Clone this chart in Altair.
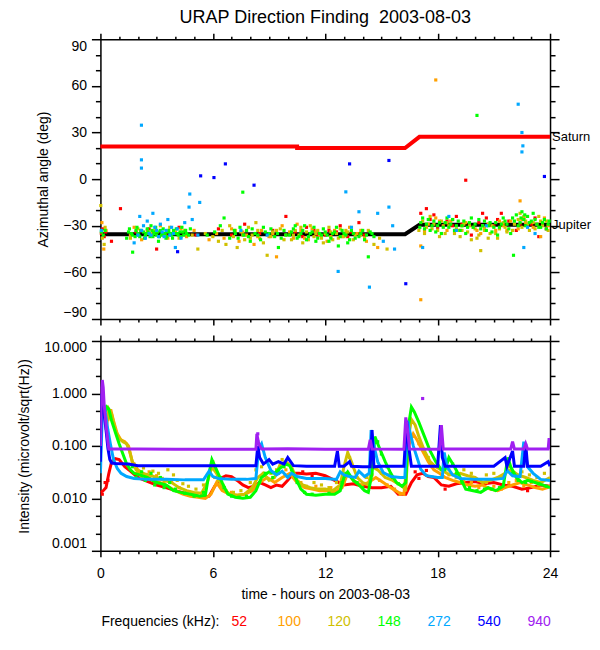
import altair as alt
import pandas as pd

FONT = "Liberation Sans"

FREQS = ["52", "100", "120", "148", "272", "540", "940"]
COLORS = ["#ff0000", "#ffa000", "#d0c000", "#00ff00", "#00a8ff", "#0000ff", "#a020f0"]

# ---------------- top panel: reference directions ----------------
SATURN = [(0, 21), (10.5, 21), (10.5, 20), (16.26, 20), (17.03, 27.2), (24, 27.2)]
JUPITER = [(0, -35.4), (16.26, -35.4), (17.03, -29.4), (24, -29.4)]

# azimuth measurements (hours, degrees) per frequency
AZ_52 = [(0.05, -35), (0.12, -32), (0.2, -37), (0.28, -34), (0.59, -40), (1.07, -19),
         (1.9, -34), (2.6, -32), (3.0, -45), (3.5, -36), (4.2, -31), (5.1, -36),
         (6.3, -32), (7.0, -36), (7.7, -29), (8.5, -35), (9.2, -33), (9.9, -24),
         (10.4, -34), (10.8, -37), (11.0, -31), (11.4, -33), (11.6, -36), (12.0, -36),
         (12.2, -33), (12.6, -34), (12.8, -30), (13.2, -37), (13.4, -34), (13.8, -28),
         (14.1, -36), (17.1, -22), (17.4, -19), (17.6, -26), (17.8, -23), (18.0, -31),
         (18.5, -27), (18.8, -30), (19.0, -24), (19.3, -29), (19.5, -0.7), (19.8, -36),
         (20.2, -28), (20.4, -22), (20.6, -25), (21.0, -30), (21.2, -26), (21.4, -22),
         (21.8, -27), (22.2, -33), (22.4, -29), (22.6, -25), (23.0, -29), (23.2, -25),
         (23.4, -37), (23.8, -32)]
AZ_100 = [(0.08, -28), (0.18, -45), (0.3, -33), (1.6, -36), (1.8, -31), (2.2, -39),
          (2.5, -33), (2.7, -35), (3.2, -30), (3.4, -36), (3.6, -38), (4.0, -34),
          (4.3, -32), (4.6, -37), (5.0, -33), (5.8, -39), (6.2, -35), (6.6, -38),
          (7.0, -32), (7.4, -40), (7.6, -34), (7.8, -36), (8.2, -42), (8.4, -37),
          (8.6, -33), (9.0, -37), (9.2, -35), (9.4, -50), (9.7, -30), (10.1, -34),
          (10.3, -38), (10.5, -29), (10.7, -33), (10.9, -38), (11.3, -32), (11.5, -34),
          (11.7, -36), (12.1, -40), (12.3, -37), (12.5, -33), (12.9, -37), (13.1, -35),
          (13.3, -31), (13.7, -35), (13.9, -33), (14.2, -40), (14.8, -44), (17.1, -43),
          (17.1, -77.6), (17.9, 63.8), (17.3, -33), (17.5, -29), (17.9, -25), (18.1, -27),
          (18.3, -30), (18.5, -33), (18.7, -27), (19.1, -33), (19.3, -30), (19.5, -28),
          (19.9, -31), (20.1, -33), (20.3, -35), (20.5, -31), (20.7, -29), (21.1, -33),
          (21.3, -27), (21.5, -30), (21.7, -33), (21.9, -27), (22.3, -32), (22.4, -14),
          (22.5, -26), (22.7, -28), (23.1, -31), (23.3, -29), (23.5, -37), (23.7, -25),
          (23.9, -30)]
AZ_120 = [(0.02, -17), (0.1, -38), (0.2, -42), (0.25, -31), (1.6, -38), (2.0, -32),
          (2.4, -37), (2.9, -33), (3.4, -36), (3.7, -31), (4.2, -38), (4.5, -33),
          (4.9, -36), (5.2, -45), (5.6, -35), (6.0, -37), (6.3, -40), (6.5, -33),
          (6.7, -42), (6.9, -30), (7.1, -37), (7.2, -33), (7.3, -44), (7.5, -34),
          (7.6, -36), (7.7, -39), (7.9, -31), (8.0, -38), (8.1, -36), (8.3, -28),
          (8.4, -33), (8.5, -38), (8.7, -41), (8.9, -49), (9.1, -37), (9.2, -34),
          (9.4, -33), (9.6, -32), (9.8, -39), (9.9, -36), (10.2, -39), (10.3, -36),
          (10.4, -33), (10.6, -36), (10.7, -31), (10.8, -41), (11.0, -34), (11.1, -39),
          (11.2, -30), (11.4, -37), (11.5, -35), (11.6, -33), (11.8, -38), (11.9, -41),
          (12.0, -35), (12.2, -31), (12.3, -34), (12.4, -39), (12.6, -35), (12.7, -38),
          (12.8, -32), (13.0, -37), (13.1, -33), (13.2, -34), (13.5, -39), (13.6, -36),
          (13.9, -36), (14.1, -38), (14.3, -33), (14.6, -42), (14.9, -38), (15.3, -45),
          (17.0, -33), (17.2, -27), (17.3, -35), (17.4, -31), (17.6, -24), (17.7, -32),
          (17.8, -29), (18.0, -33), (18.1, -37), (18.2, -27), (18.4, -35), (18.5, -28),
          (18.6, -30), (18.8, -26), (18.9, -35), (19.0, -32), (19.2, -37), (19.3, -33),
          (19.4, -29), (19.6, -34), (19.7, -30), (19.8, -39), (20.0, -32), (20.1, -38),
          (20.2, -36), (20.3, -46), (20.4, -30), (20.5, -33), (20.7, -38), (20.8, -35),
          (20.9, -30), (21.1, -35), (21.2, -38), (21.3, -32), (21.5, -28), (21.6, -31),
          (21.7, -34), (22.0, -33), (22.1, -29), (22.3, -26), (22.4, -22), (22.5, -31),
          (22.6, -24), (22.7, -27), (22.8, -29), (22.9, -33), (23.1, -28), (23.2, -32),
          (23.4, -24), (23.5, -27), (23.6, -30), (23.8, -27), (23.9, -33)]
AZ_148 = [(0.05, -34), (0.15, -36), (0.25, -33), (1.4, -38), (1.5, -34), (1.55, -32),
          (1.65, -35), (1.7, -36), (1.72, -47), (1.85, -37), (1.9, -33), (1.95, -31),
          (2.0, -35), (2.05, -36), (2.1, -37), (2.15, -33), (2.3, -34), (2.35, -38),
          (2.4, -36), (2.45, -35), (2.5, -32), (2.55, -34), (2.6, -35), (2.65, -37),
          (2.7, -30), (2.75, -33), (2.8, -37), (2.85, -35), (2.9, -34), (2.95, -31),
          (3.0, -36), (3.05, -34), (3.1, -40), (3.15, -37), (3.2, -33), (3.25, -36),
          (3.3, -35), (3.35, -32), (3.45, -35), (3.5, -38), (3.55, -37), (3.6, -34),
          (3.65, -33), (3.75, -35), (3.8, -36), (3.85, -38), (3.9, -33), (3.95, -35),
          (4.05, -32), (4.1, -35), (4.15, -36), (4.25, -34), (4.3, -37), (4.35, -31),
          (4.4, -34), (4.45, -36), (4.55, -33), (4.6, -35), (4.7, -36), (4.8, -32),
          (5.7, -36), (6.1, -34), (6.4, -30), (6.6, -25), (6.9, -38), (7.15, -33),
          (7.2, -35), (7.35, -38), (7.45, -31), (7.6, -8.4), (7.65, -36), (7.8, -33),
          (7.9, -37), (8.0, -40), (8.1, -32), (8.25, -35), (8.4, -36), (8.55, -39),
          (8.7, -31), (8.8, -34), (9.0, -35), (9.1, -32), (9.3, -37), (9.45, -35),
          (9.5, -44), (9.65, -38), (9.8, -33), (9.9, -36), (10.1, -36), (10.2, -34),
          (10.3, -32), (10.4, -30), (10.5, -38), (10.6, -37), (10.7, -35), (10.8, -33),
          (10.9, -30), (11.0, -39), (11.1, -37), (11.2, -35), (11.3, -34), (11.4, -31),
          (11.5, -40), (11.6, -38), (11.7, -35), (11.8, -36), (11.9, -32), (12.0, -34),
          (12.1, -36), (12.2, -40), (12.3, -38), (12.4, -35), (12.5, -34), (12.6, -31),
          (12.7, -43), (12.8, -37), (12.9, -33), (13.0, -35), (13.1, -36), (13.2, -41),
          (13.3, -39), (13.4, -33), (13.5, -35), (13.6, -38), (13.8, -37), (13.9, -35),
          (14.0, -33), (14.1, -39), (14.2, -36), (14.3, -50), (14.4, -34), (14.5, -35),
          (14.6, -37), (17.05, -31), (17.1, -28), (17.2, -25), (17.3, -32), (17.4, -29),
          (17.5, -26), (17.6, -33), (17.7, -30), (17.8, -27), (17.9, -34), (18.0, -30),
          (18.1, -28), (18.2, -35), (18.3, -31), (18.4, -28), (18.5, -25), (18.6, -31),
          (18.7, -29), (18.8, -26), (18.9, -33), (19.0, -30), (19.1, -27), (19.2, -33),
          (19.3, -30), (19.4, -27), (19.5, -35), (19.6, -31), (19.7, -28), (19.8, -25),
          (19.9, -31), (20.0, -29), (20.1, 41), (20.2, -26), (20.3, -32), (20.4, -30),
          (20.5, -27), (20.6, -33), (20.7, -30), (20.8, -28), (20.9, -34), (21.0, -31),
          (21.1, -28), (21.2, -36), (21.3, -31), (21.4, -29), (21.5, -25), (21.6, -27),
          (21.7, -29), (21.8, -32), (21.9, -35), (22.0, -25), (22.05, -49), (22.1, -27),
          (22.2, -23), (22.3, -30), (22.4, -28), (22.45, -25), (22.5, -21), (22.6, -26),
          (22.65, -23), (22.7, -30), (22.8, -24), (22.9, -28), (23.0, -27), (23.1, -22),
          (23.2, -26), (23.3, -29), (23.4, -31), (23.5, -31), (23.6, -28), (23.7, -26),
          (23.8, -32), (23.9, -29), (23.95, -27)]
AZ_272 = [(0.05, -33), (2.19, 34.7), (2.19, 12.4), (2.19, 7.1), (1.8, -41), (2.0, -36),
          (2.1, -24), (2.2, -33), (2.3, -30), (2.4, -38), (2.5, -27), (2.6, -35),
          (2.7, -36), (2.8, -22), (2.9, -31), (3.0, -33), (3.1, -37), (3.2, -29),
          (3.3, -34), (3.4, -37), (3.5, -33), (3.6, -26), (3.7, -36), (3.8, -31),
          (3.9, -35), (4.0, -44), (4.1, -32), (4.3, -38), (4.5, -28), (4.73, -18),
          (4.77, -9.6), (4.9, -26), (5.3, -15), (5.2, -36), (7.5, -33), (8.9, -36),
          (12.69, -59.4), (13.1, -8.2), (13.4, -31), (13.8, -21), (14.36, -69.5),
          (14.8, -22), (15.1, -40), (15.4, -18), (15.6, -30), (15.7, -45), (17.2, -44),
          (18.6, -24), (19.0, -33), (20.6, -30), (22.3, 48.2), (22.5, 30), (22.55, 21.4),
          (22.5, 17.5), (22.6, -44), (22.8, -31), (23.2, -35)]
AZ_540 = [(4.12, -46.7), (5.35, 2.1), (6.06, 1.0), (6.67, 9.8), (8.2, -3.9), (13.3, 9.8),
          (15.4, 12.0), (16.3, -67.3), (23.7, 1.7)]
AZ_940 = []

# ---------------- bottom panel: intensities (hours, microvolt/sqrt(Hz)) ----------------
INT_52 = [(0.0, 0.013), (0.15, 0.014), (0.3, 0.016), (0.45, 0.03), (0.6, 0.05), (0.8, 0.057),
          (1.0, 0.055), (1.3, 0.04), (1.6, 0.033), (2.0, 0.025), (2.5, 0.021), (3.0, 0.018),
          (3.5, 0.016), (4.0, 0.014), (4.5, 0.0125), (5.0, 0.0115), (5.5, 0.0105), (5.8, 0.011),
          (6.1, 0.017), (6.4, 0.024), (6.7, 0.027), (7.0, 0.026), (7.3, 0.022), (7.6, 0.018),
          (7.9, 0.016), (8.2, 0.017), (8.5, 0.02), (8.8, 0.018), (9.1, 0.016), (9.4, 0.018),
          (9.7, 0.017), (10.0, 0.022), (10.3, 0.03), (10.6, 0.03), (11.0, 0.029), (11.5, 0.03),
          (12.0, 0.027), (12.5, 0.022), (13.0, 0.018), (13.5, 0.019), (14.0, 0.017), (14.5, 0.016),
          (15.0, 0.016), (15.5, 0.017), (15.9, 0.012), (16.3, 0.012), (16.6, 0.02), (16.9, 0.028),
          (17.2, 0.03), (17.5, 0.026), (17.8, 0.025), (18.2, 0.018), (18.6, 0.017), (19.0, 0.019),
          (19.5, 0.02), (20.0, 0.021), (20.5, 0.019), (21.0, 0.02), (21.5, 0.018), (22.0, 0.017),
          (22.5, 0.015), (23.0, 0.016), (23.5, 0.018), (24.0, 0.017)]
INT_100 = [(0.4, 0.3), (0.55, 0.5), (0.7, 0.3), (0.9, 0.17), (1.1, 0.13), (1.3, 0.12), (1.5, 0.1),
           (1.7, 0.05), (2.0, 0.035), (2.4, 0.028), (2.8, 0.022), (3.2, 0.02), (3.6, 0.017),
           (4.0, 0.014), (4.4, 0.012), (4.8, 0.011), (5.2, 0.0105), (5.6, 0.01), (5.9, 0.012),
           (6.2, 0.02), (6.5, 0.014), (6.9, 0.012), (7.3, 0.0115), (7.7, 0.012), (8.1, 0.014),
           (8.5, 0.02), (8.9, 0.025), (9.3, 0.02), (9.7, 0.025), (10.1, 0.03), (10.5, 0.02),
           (10.9, 0.016), (11.3, 0.015), (11.7, 0.014), (12.1, 0.014), (12.5, 0.013), (12.9, 0.016),
           (13.2, 0.03), (13.5, 0.022), (13.9, 0.018), (14.3, 0.02), (14.7, 0.025), (15.1, 0.02),
           (15.5, 0.016), (15.9, 0.013), (16.2, 0.012), (16.45, 0.1), (16.7, 0.17), (16.9, 0.13),
           (17.2, 0.08), (17.5, 0.05), (17.8, 0.035), (18.1, 0.03), (18.4, 0.025), (18.8, 0.022),
           (19.2, 0.02), (19.6, 0.018), (20.0, 0.017), (20.4, 0.018), (20.8, 0.015), (21.2, 0.014),
           (21.6, 0.016), (22.0, 0.018), (22.4, 0.02), (22.8, 0.018), (23.2, 0.016), (23.6, 0.015),
           (24.0, 0.017)]
INT_120 = [(0.3, 0.2), (0.45, 0.5), (0.6, 0.4), (0.8, 0.2), (1.0, 0.14), (1.2, 0.12), (1.4, 0.11),
           (1.55, 0.08), (1.7, 0.05), (1.9, 0.035), (2.2, 0.03), (2.6, 0.028), (3.0, 0.025),
           (3.4, 0.022), (3.8, 0.02), (4.2, 0.016), (4.6, 0.014), (5.0, 0.013), (5.4, 0.0125),
           (5.7, 0.02), (5.95, 0.04), (6.2, 0.03), (6.5, 0.016), (6.9, 0.012), (7.3, 0.0115),
           (7.7, 0.012), (8.1, 0.016), (8.4, 0.025), (8.7, 0.03), (9.0, 0.022), (9.3, 0.025),
           (9.6, 0.045), (9.9, 0.05), (10.2, 0.04), (10.5, 0.022), (10.8, 0.018), (11.2, 0.016),
           (11.6, 0.015), (12.0, 0.015), (12.4, 0.014), (12.8, 0.018), (13.0, 0.04), (13.2, 0.075),
           (13.4, 0.05), (13.7, 0.025), (14.0, 0.02), (14.3, 0.018), (14.5, 0.04), (14.8, 0.035),
           (15.2, 0.025), (15.6, 0.022), (16.0, 0.018), (16.3, 0.015), (16.45, 0.15), (16.6, 0.32),
           (16.8, 0.25), (17.0, 0.15), (17.3, 0.08), (17.6, 0.05), (17.9, 0.04), (18.2, 0.035),
           (18.5, 0.03), (18.8, 0.028), (19.2, 0.03), (19.6, 0.027), (20.0, 0.025), (20.4, 0.02),
           (20.8, 0.022), (21.2, 0.025), (21.6, 0.03), (21.9, 0.035), (22.3, 0.028), (22.7, 0.025),
           (23.1, 0.022), (23.5, 0.02), (24.0, 0.025)]
INT_148 = [(0.2, 0.4), (0.35, 0.55), (0.45, 0.5), (0.6, 0.3), (0.8, 0.18), (1.0, 0.11), (1.2, 0.07),
           (1.4, 0.045), (1.6, 0.035), (1.8, 0.03), (2.1, 0.028), (2.5, 0.025), (3.0, 0.02),
           (3.5, 0.018), (3.9, 0.014), (4.3, 0.013), (4.8, 0.012), (5.3, 0.011), (5.6, 0.0115),
           (5.8, 0.03), (5.95, 0.055), (6.2, 0.035), (6.5, 0.02), (6.8, 0.012), (7.2, 0.0105),
           (7.6, 0.01), (8.0, 0.0105), (8.3, 0.014), (8.6, 0.025), (9.0, 0.032), (9.3, 0.03),
           (9.6, 0.038), (9.9, 0.045), (10.1, 0.042), (10.4, 0.025), (10.7, 0.015), (11.0, 0.012),
           (11.5, 0.0115), (12.0, 0.012), (12.5, 0.012), (12.8, 0.014), (13.0, 0.025), (13.2, 0.032),
           (13.5, 0.022), (13.8, 0.018), (14.1, 0.014), (14.3, 0.013), (14.5, 0.03), (14.65, 0.15),
           (14.9, 0.09), (15.2, 0.05), (15.5, 0.03), (15.8, 0.02), (16.1, 0.017), (16.3, 0.02),
           (16.45, 0.25), (16.6, 0.55), (16.75, 0.45), (17.0, 0.28), (17.3, 0.15), (17.6, 0.08),
           (17.9, 0.05), (18.2, 0.035), (18.4, 0.035), (18.6, 0.06), (18.9, 0.04), (19.2, 0.025),
           (19.5, 0.015), (19.9, 0.014), (20.3, 0.013), (20.7, 0.016), (21.1, 0.014), (21.5, 0.017),
           (21.75, 0.06), (21.9, 0.04), (22.2, 0.025), (22.5, 0.02), (22.8, 0.022), (23.2, 0.02),
           (23.6, 0.018), (24.0, 0.016)]
INT_272 = [(0.0, 0.03), (0.1, 0.4), (0.2, 0.6), (0.3, 0.35), (0.4, 0.2), (0.55, 0.1), (0.7, 0.055),
           (0.9, 0.037), (1.1, 0.03), (1.4, 0.026), (1.8, 0.024), (2.5, 0.023), (3.5, 0.023),
           (4.5, 0.0225), (5.5, 0.0225), (5.8, 0.033), (6.0, 0.026), (6.3, 0.024), (7.0, 0.023),
           (7.8, 0.023), (8.3, 0.024), (8.45, 0.09), (8.6, 0.11), (8.8, 0.06), (9.1, 0.034),
           (9.4, 0.028), (9.7, 0.033), (10.0, 0.025), (10.2, 0.03), (10.5, 0.026), (11.0, 0.024),
           (12.0, 0.024), (12.6, 0.023), (12.8, 0.032), (13.0, 0.028), (13.3, 0.026), (13.6, 0.025),
           (13.8, 0.033), (14.1, 0.026), (14.35, 0.03), (14.45, 0.2), (14.6, 0.1), (14.8, 0.05),
           (15.1, 0.031), (15.5, 0.026), (16.0, 0.025), (16.25, 0.025), (16.4, 0.3), (16.5, 0.2),
           (16.7, 0.1), (16.9, 0.06), (17.1, 0.036), (17.4, 0.027), (18.0, 0.025), (18.25, 0.025),
           (18.35, 0.075), (18.5, 0.04), (18.8, 0.028), (19.2, 0.024), (20.0, 0.023), (21.0, 0.023),
           (21.5, 0.024), (21.7, 0.034), (22.0, 0.027), (22.4, 0.026), (22.6, 0.12), (22.8, 0.04),
           (23.1, 0.03), (23.5, 0.023), (24.0, 0.022)]
INT_540 = [(0.0, 0.05), (0.05, 1.0), (0.1, 0.6), (0.2, 0.4), (0.3, 0.2), (0.4, 0.09), (0.5, 0.055),
           (0.6, 0.047), (0.8, 0.046), (1.5, 0.045), (2.0, 0.042), (3.0, 0.042), (5.0, 0.042),
           (7.0, 0.042), (8.3, 0.042), (8.4, 0.1), (8.5, 0.06), (8.7, 0.045), (9.0, 0.055),
           (9.2, 0.045), (9.5, 0.05), (9.8, 0.045), (10.0, 0.06), (10.3, 0.042), (11.0, 0.041),
           (12.5, 0.041), (12.65, 0.08), (12.75, 0.041), (13.0, 0.041), (13.3, 0.05), (13.4, 0.041),
           (14.0, 0.04), (14.4, 0.04), (14.5, 0.2), (14.6, 0.04), (15.0, 0.041), (16.2, 0.041),
           (16.35, 0.3), (16.45, 0.1), (16.6, 0.041), (17.0, 0.041), (18.0, 0.041), (18.15, 0.25),
           (18.25, 0.06), (18.4, 0.041), (19.0, 0.041), (21.0, 0.041), (21.6, 0.06), (21.7, 0.041),
           (22.0, 0.08), (22.1, 0.041), (22.2, 0.041), (22.6, 0.041), (22.7, 0.11), (22.8, 0.041),
           (23.5, 0.041), (23.9, 0.05), (24.0, 0.041)]
INT_940 = [(0.0, 0.1), (0.05, 1.2), (0.1, 1.8), (0.15, 1.3), (0.2, 0.6), (0.3, 0.25), (0.4, 0.12),
           (0.45, 0.087), (1.0, 0.087), (2.0, 0.087), (4.0, 0.086), (6.0, 0.086), (8.3, 0.086),
           (8.35, 0.17), (8.45, 0.11), (8.6, 0.087), (10.0, 0.088), (12.0, 0.086), (14.3, 0.086),
           (14.4, 0.13), (14.5, 0.087), (16.2, 0.086), (16.3, 0.35), (16.4, 0.2), (16.5, 0.087),
           (18.1, 0.086), (18.2, 0.25), (18.3, 0.087), (20.0, 0.087), (21.9, 0.087), (22.0, 0.12),
           (22.1, 0.087), (22.6, 0.087), (22.7, 0.11), (22.8, 0.087), (23.9, 0.087), (23.95, 0.14),
           (24.0, 0.087)]

# scattered individual intensity samples around the traces
SCAT_52 = [(0.1, 0.012), (0.25, 0.02), (0.4, 0.022), (10.8, 0.032), (11.3, 0.027),
           (16.8, 0.032), (17.0, 0.024), (17.4, 0.034), (18.4, 0.015), (22.8, 0.014)]
SCAT_100 = [(1.9, 0.03), (2.2, 0.025), (2.6, 0.032), (3.0, 0.027), (3.4, 0.02), (3.8, 0.022),
            (4.2, 0.016), (4.6, 0.013), (5.0, 0.0115), (5.4, 0.012), (6.1, 0.025), (6.6, 0.016),
            (7.0, 0.013), (8.3, 0.018), (8.7, 0.03), (9.5, 0.03), (9.9, 0.035), (10.3, 0.025),
            (10.7, 0.02), (11.5, 0.017), (12.3, 0.016), (13.0, 0.02), (13.7, 0.025), (14.5, 0.028),
            (14.9, 0.022), (15.3, 0.018), (15.7, 0.015), (16.0, 0.012), (17.0, 0.11), (17.4, 0.065),
            (17.7, 0.04), (18.2, 0.035), (18.6, 0.028), (19.0, 0.025), (19.4, 0.022), (19.8, 0.02),
            (20.2, 0.016), (20.6, 0.02), (21.0, 0.017), (21.4, 0.015), (21.8, 0.02), (22.2, 0.022),
            (22.6, 0.017), (23.0, 0.02), (23.4, 0.018), (23.8, 0.016)]
SCAT_120 = [(1.8, 0.045), (2.0, 0.032), (2.3, 0.038), (2.5, 0.026), (2.8, 0.033), (3.1, 0.03),
            (3.3, 0.024), (3.6, 0.035), (3.9, 0.028), (4.1, 0.022), (4.4, 0.019), (4.7, 0.017),
            (5.1, 0.015), (5.5, 0.018), (6.0, 0.05), (6.3, 0.022), (6.7, 0.014), (7.1, 0.013),
            (7.5, 0.014), (8.0, 0.02), (8.3, 0.035), (8.6, 0.04), (9.1, 0.03), (9.4, 0.035),
            (9.7, 0.055), (10.0, 0.045), (10.3, 0.03), (10.6, 0.02), (11.0, 0.017), (11.4, 0.02),
            (11.8, 0.018), (12.2, 0.016), (12.6, 0.02), (13.3, 0.06), (13.5, 0.04), (14.2, 0.025),
            (15.0, 0.03), (15.4, 0.028), (17.5, 0.06), (18.0, 0.045), (18.6, 0.035), (19.0, 0.025),
            (19.4, 0.035), (19.8, 0.03), (20.2, 0.022), (20.6, 0.028), (21.0, 0.03), (21.4, 0.026),
            (21.8, 0.04), (22.1, 0.03), (22.5, 0.032), (22.9, 0.028), (23.3, 0.025), (23.7, 0.03)]
SCAT_148 = [(1.7, 0.04), (1.9, 0.025), (2.2, 0.032), (2.4, 0.022), (2.7, 0.03), (2.9, 0.018),
            (3.2, 0.025), (3.4, 0.016), (3.7, 0.02), (4.0, 0.015), (4.5, 0.0125), (5.0, 0.011),
            (5.5, 0.013), (6.0, 0.045), (6.4, 0.025), (6.6, 0.016), (7.0, 0.011), (7.4, 0.0105),
            (7.8, 0.011), (8.5, 0.02), (8.8, 0.03), (9.2, 0.025), (9.5, 0.033), (9.8, 0.04),
            (10.2, 0.035), (10.5, 0.02), (10.9, 0.013), (11.3, 0.012), (12.2, 0.0125), (12.9, 0.02),
            (13.1, 0.03), (13.4, 0.025), (13.7, 0.02), (14.0, 0.016), (14.8, 0.12), (15.0, 0.07),
            (15.3, 0.04), (15.6, 0.025), (15.9, 0.019), (18.5, 0.05), (18.8, 0.045), (19.0, 0.03),
            (19.3, 0.02), (19.7, 0.016), (20.1, 0.014), (20.5, 0.015), (20.9, 0.015), (21.3, 0.016),
            (21.7, 0.035), (22.0, 0.03), (22.3, 0.022), (22.7, 0.02), (23.0, 0.021), (23.4, 0.019),
            (23.8, 0.017)]
SCAT_272 = []
SCAT_540 = []
SCAT_940 = [(17.2, 0.8), (8.4, 0.17), (8.4, 0.12)]

AZ = dict(zip(FREQS, [AZ_52, AZ_100, AZ_120, AZ_148, AZ_272, AZ_540, AZ_940]))
INT = dict(zip(FREQS, [INT_52, INT_100, INT_120, INT_148, INT_272, INT_540, INT_940]))
SCAT = dict(zip(FREQS, [SCAT_52, SCAT_100, SCAT_120, SCAT_148, SCAT_272, SCAT_540, SCAT_940]))
COL = dict(zip(FREQS, COLORS))

# ---------------- styles ----------------
W, H1, H2 = 450, 280, 210
HOURS = list(range(0, 25))
ANGLES = list(range(-90, 91, 10))
LOGTICKS = [10 ** (k / 3) for k in range(-9, 4)]

common = dict(labelFont=FONT, labelFontSize=14, labelColor="black", titleFont=FONT,
              titleFontSize=14, titleFontWeight="normal", titleColor="black",
              domainColor="black", tickColor="black", domainWidth=1.5, tickWidth=1.5,
              grid=False, labelOverlap=False)


def x_axis(orient, labels, title=None):
    kw = dict(common)
    kw.update(orient=orient, values=HOURS, labels=labels,
              tickSize={"condition": {"test": "datum.value % 6 === 0", "value": 6}, "value": 3})
    if labels:
        kw.update(labelExpr="datum.value % 6 === 0 ? datum.label : ''", labelFlush=False,
                  labelPadding=10, titlePadding=7)
    return alt.Axis(title=title, **kw)


def y_axis(orient, labels, title=None):
    kw = dict(common)
    kw.update(orient=orient, values=ANGLES, labels=labels,
              tickSize={"condition": {"test": "datum.value % 30 === 0", "value": 9}, "value": 5})
    if labels:
        kw.update(labelExpr="datum.value % 30 === 0 ? datum.label : ''", labelFlush=True,
                  labelPadding=5, titlePadding=12)
    return alt.Axis(title=title, **kw)


DEC = "abs(log(datum.value)/LN10 - round(log(datum.value)/LN10)) < 0.01"


def ylog_axis(orient, labels, title=None):
    kw = dict(common)
    kw.update(orient=orient, values=LOGTICKS, labels=labels,
              tickSize={"condition": {"test": DEC, "value": 9}, "value": 5})
    if labels:
        kw.update(labelExpr=DEC + " ? format(datum.value, '.3f') : ''", labelFlush=True,
                  labelPadding=5, titlePadding=12)
    return alt.Axis(title=title, **kw)


xs = alt.Scale(domain=[0, 24], nice=False, zero=False)
ys1 = alt.Scale(domain=[-90, 90], nice=False, zero=False)
ys2 = alt.Scale(type="log", domain=[0.001, 10], nice=False)
cscale = alt.Scale(domain=FREQS, range=COLORS)

# ---------------- top panel ----------------
sat_df = pd.DataFrame({"t": [p[0] for p in SATURN], "a": [p[1] for p in SATURN],
                       "i": range(len(SATURN))})
jup_df = pd.DataFrame({"t": [p[0] for p in JUPITER], "a": [p[1] for p in JUPITER],
                       "i": range(len(JUPITER))})
az_rows = [{"t": t, "a": a, "f": f} for f in FREQS for (t, a) in AZ[f]]
az_df = pd.DataFrame(az_rows)
lab_df = pd.DataFrame({"t": [SATURN[-1][0], JUPITER[-1][0]],
                       "a": [SATURN[-1][1], JUPITER[-1][1]],
                       "name": ["Saturn", "Jupiter"]})

saturn = alt.Chart(sat_df).mark_line(color="#ff0000", strokeWidth=4).encode(
    x=alt.X("t:Q", scale=xs, axis=x_axis("bottom", False)),
    y=alt.Y("a:Q", scale=ys1, axis=y_axis("left", True, "Azimuthal angle (deg)")),
    order="i:Q")
jupiter = alt.Chart(jup_df).mark_line(color="black", strokeWidth=4).encode(
    x=alt.X("t:Q", scale=xs, axis=x_axis("top", False)),
    y=alt.Y("a:Q", scale=ys1, axis=y_axis("right", False)),
    order="i:Q")
az_pts = alt.Chart(az_df).mark_square(size=10, opacity=1).encode(
    x=alt.X("t:Q", scale=xs, axis=None),
    y=alt.Y("a:Q", scale=ys1, axis=None),
    color=alt.Color("f:N", scale=cscale, legend=None))
names = alt.Chart(lab_df).mark_text(align="left", baseline="middle", dx=2, font=FONT,
                                    fontSize=13, color="black").encode(
    x=alt.X("t:Q", scale=xs, axis=None),
    y=alt.Y("a:Q", scale=ys1, axis=None),
    text="name:N")

top = alt.layer(saturn, jupiter, az_pts, names).resolve_axis(
    x="independent", y="independent").properties(
    width=W, height=H1,
    title=alt.Title("URAP Direction Finding\u00a0 2003-08-03", font=FONT, fontSize=18,
                    fontWeight="normal", color="black", anchor="middle", frame="group",
                    offset=5.3))

# ---------------- bottom panel ----------------
layers = []
for k, f in enumerate(FREQS):
    df = pd.DataFrame({"t": [p[0] for p in INT[f]], "v": [p[1] for p in INT[f]]})
    enc = dict(x=alt.X("t:Q", scale=xs, axis=None), y=alt.Y("v:Q", scale=ys2, axis=None))
    if k == 0:
        enc = dict(x=alt.X("t:Q", scale=xs, axis=x_axis("bottom", True, "time - hours on 2003-08-03")),
                   y=alt.Y("v:Q", scale=ys2, axis=ylog_axis("left", True,
                                                            "Intensity (microvolt/sqrt(Hz))")))
    elif k == 1:
        enc = dict(x=alt.X("t:Q", scale=xs, axis=x_axis("top", False)),
                   y=alt.Y("v:Q", scale=ys2, axis=ylog_axis("right", False)))
    layers.append(alt.Chart(df).mark_line(color=COL[f], strokeWidth=3, clip=True).encode(**enc))
    if SCAT[f]:
        sdf = pd.DataFrame({"t": [p[0] for p in SCAT[f]], "v": [p[1] for p in SCAT[f]]})
        layers.append(alt.Chart(sdf).mark_square(size=10, opacity=1, color=COL[f]).encode(
            x=alt.X("t:Q", scale=xs, axis=None), y=alt.Y("v:Q", scale=ys2, axis=None)))

leg_df = pd.DataFrame({"f": FREQS, "c": COLORS, "i": range(len(FREQS))})
leg_title = alt.Chart(pd.DataFrame({"s": ["Frequencies (kHz):"]})).mark_text(
    align="left", baseline="middle", font=FONT, fontSize=14, color="black").encode(
    x=alt.value(1), y=alt.value(H2 + 71), text="s:N")
leg_items = alt.Chart(leg_df).transform_calculate(px="139 + 50 * datum.i").mark_text(
    align="center", baseline="middle", font=FONT, fontSize=14).encode(
    x=alt.X("px:Q", scale=None, axis=None), y=alt.value(H2 + 71), text="f:N",
    color=alt.Color("c:N", scale=None, legend=None))
layers += [leg_title, leg_items]

bottom = alt.layer(*layers).resolve_axis(x="independent", y="independent").properties(
    width=W, height=H2)

chart = alt.vconcat(top, bottom, spacing=8).properties(
    padding={"left": 9.5, "top": 0, "right": 0, "bottom": 4},
    background="white").configure_view(strokeWidth=0)

chart.save("out.html", embed_options={"renderer": "svg", "actions": False})
